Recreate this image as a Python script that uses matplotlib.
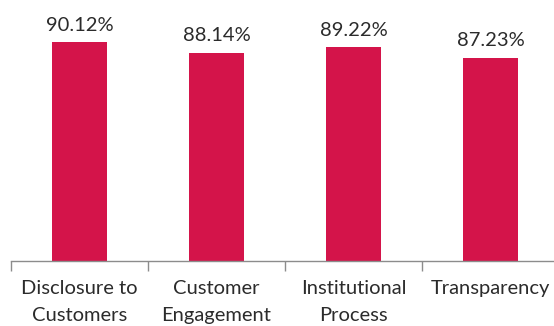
import matplotlib.pyplot as plt
import numpy as np

categories = ['Disclosure to\nCustomers', 'Customer\nEngagement', 'Institutional\nProcess', 'Transparency']
scores = [90.12, 88.14, 89.22, 87.23]

bar_color = '#D4144A'
text_color = '#2b2b2b'

plt.rcParams['font.family'] = ['Lato', 'DejaVu Sans']

fig = plt.figure(figsize=(5.54, 3.26), dpi=100)
ax = fig.add_axes([11/554, 65/326, 548/554, 261/326])

x = np.arange(len(scores))
bars = ax.bar(x, scores, width=0.4, color=bar_color, bottom=0)
ax.set_ylim(50, 97.8)
ax.set_xlim(-0.5, len(scores) - 0.5)

for b, v in zip(bars, scores):
    ax.annotate(f'{v:.2f}%', (b.get_x() + b.get_width()/2, v),
                xytext=(0, 6), textcoords='offset points',
                ha='center', va='bottom', fontsize=14.5, color=text_color)

# labels on the centre ticks, tick marks on the category boundaries
ax.set_xticks(x)
ax.set_xticklabels(categories, fontsize=14.5, color=text_color, linespacing=1.65)
ax.tick_params(axis='x', which='major', length=0, pad=14)
ax.set_xticks(np.arange(len(scores) + 1) - 0.5, minor=True)
ax.tick_params(axis='x', which='minor', length=7, color='#8c8c8c', width=1)

ax.set_yticks([])
for side in ['left', 'right', 'top']:
    ax.spines[side].set_visible(False)
ax.spines['bottom'].set_color('#8c8c8c')
ax.spines['bottom'].set_linewidth(1)

fig.savefig('out.png', dpi=100)
